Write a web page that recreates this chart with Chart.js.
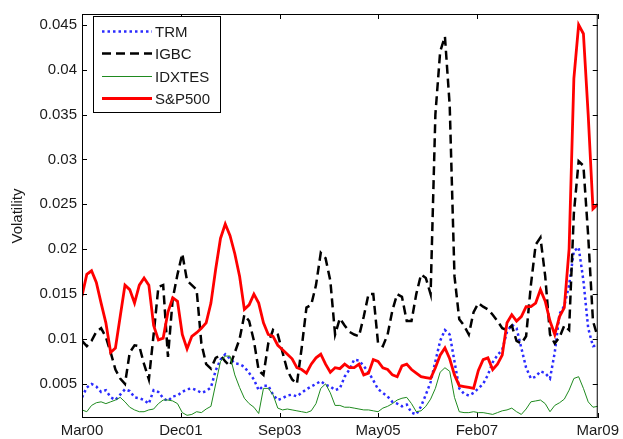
<!DOCTYPE html>
<html>
<head>
<meta charset="utf-8">
<script src="https://cdn.jsdelivr.net/npm/chart.js@4.4.0/dist/chart.umd.min.js"></script>
<style>
  html, body { margin: 0; padding: 0; background: #fff; }
  #wrap { width: 623px; height: 439px; }
</style>
</head>
<body>
<div id="wrap"><canvas id="volChart"></canvas></div>
<script>
// monthly samples, Mar00 .. Mar09 (index = months since Mar00)
const trm = [
  0.0035, 0.0046, 0.0050, 0.0047, 0.0041, 0.0043, 0.0035, 0.0032, 0.0038, 0.0044,
  0.0042, 0.0035, 0.0034, 0.0032, 0.0028, 0.0043, 0.0041, 0.0034, 0.0031, 0.0036,
  0.0037, 0.0041, 0.0044, 0.0045, 0.0043, 0.0040, 0.0042, 0.0046, 0.0065, 0.0077,
  0.0083, 0.0078, 0.0073, 0.0072, 0.0069, 0.0062, 0.0055, 0.0043, 0.0048, 0.0048,
  0.0038, 0.0032, 0.0034, 0.0037, 0.0038, 0.0036, 0.0040, 0.0044, 0.0047, 0.0050,
  0.0053, 0.0049, 0.0047, 0.0043, 0.0045, 0.0058, 0.0066, 0.0077, 0.0076, 0.0070,
  0.0063, 0.0054, 0.0044, 0.0040, 0.0036, 0.0030, 0.0028, 0.0025, 0.0027, 0.0018,
  0.0016, 0.0025, 0.0038, 0.0052, 0.0075, 0.0098, 0.0110, 0.0105, 0.0075, 0.0045,
  0.0039, 0.0037, 0.0040, 0.0045, 0.0050, 0.0060, 0.0074, 0.0082, 0.0088, 0.0108,
  0.0116, 0.0112, 0.0090, 0.0068, 0.0056, 0.0058, 0.0064, 0.0062, 0.0056, 0.0085,
  0.0128, 0.0137, 0.0160, 0.0198, 0.0202, 0.0165, 0.0112, 0.0092, 0.0093
];
const igbc = [
  0.0098, 0.0092, 0.0098, 0.0108, 0.0112, 0.0102, 0.0085, 0.0066, 0.0056, 0.0050,
  0.0085, 0.0093, 0.0092, 0.0072, 0.0055, 0.0105, 0.0158, 0.0160, 0.0080, 0.0145,
  0.0172, 0.0195, 0.0165, 0.0160, 0.0155, 0.0095, 0.0072, 0.0067, 0.0079, 0.0082,
  0.0075, 0.0070, 0.0085, 0.0100, 0.0127, 0.0120, 0.0098, 0.0065, 0.0060, 0.0095,
  0.0110, 0.0105, 0.0085, 0.0065, 0.0055, 0.0050, 0.0090, 0.0135, 0.0138, 0.0160,
  0.0196, 0.0190, 0.0165, 0.0105, 0.0123, 0.0115, 0.0108, 0.0105, 0.0103, 0.0125,
  0.0150, 0.0150, 0.0095, 0.0092, 0.0105, 0.0132, 0.0150, 0.0147, 0.0120, 0.0120,
  0.0150, 0.0172, 0.0168, 0.0150, 0.0350, 0.0420, 0.0437, 0.0360, 0.0170, 0.0122,
  0.0115, 0.0105, 0.0130, 0.0140, 0.0136, 0.0133, 0.0127, 0.0120, 0.0112, 0.0110,
  0.0115, 0.0098, 0.0095, 0.0103, 0.0160, 0.0205, 0.0213, 0.0170, 0.0105, 0.0095,
  0.0102, 0.0115, 0.0110, 0.0240, 0.0298, 0.0293, 0.0215, 0.0120, 0.0102
];
const idxtes = [
  0.0021, 0.0019, 0.0026, 0.0029, 0.0030, 0.0028, 0.0030, 0.0032, 0.0035, 0.0030,
  0.0024, 0.0021, 0.0019, 0.0019, 0.0021, 0.0022, 0.0028, 0.0032, 0.0032, 0.0031,
  0.0028, 0.0018, 0.0015, 0.0016, 0.0019, 0.0018, 0.0022, 0.0025, 0.0050, 0.0075,
  0.0081, 0.0081, 0.0060, 0.0046, 0.0034, 0.0028, 0.0024, 0.0017, 0.0045, 0.0045,
  0.0038, 0.0023, 0.0021, 0.0022, 0.0021, 0.0020, 0.0019, 0.0018, 0.0020, 0.0028,
  0.0045, 0.0050, 0.0040, 0.0026, 0.0026, 0.0024, 0.0024, 0.0023, 0.0022, 0.0021,
  0.0021, 0.0020, 0.0019, 0.0023, 0.0025, 0.0028, 0.0032, 0.0034, 0.0035, 0.0028,
  0.0019, 0.0020, 0.0025, 0.0033, 0.0045, 0.0063, 0.0068, 0.0064, 0.0035, 0.0019,
  0.0018, 0.0018, 0.0019, 0.0018, 0.0018, 0.0017, 0.0016, 0.0018, 0.0020, 0.0021,
  0.0023, 0.0019, 0.0016, 0.0022, 0.0030, 0.0031, 0.0032, 0.0028, 0.0019, 0.0026,
  0.0029, 0.0033, 0.0043, 0.0056, 0.0058, 0.0045, 0.0030, 0.0024, 0.0025
];
const sp500 = [
  0.0148, 0.0172, 0.0176, 0.0163, 0.0140, 0.0118, 0.0085, 0.0090, 0.0125, 0.0160,
  0.0155, 0.0140, 0.0160, 0.0168, 0.0160, 0.0115, 0.0099, 0.0101, 0.0130, 0.0146,
  0.0142, 0.0105, 0.0089, 0.0103, 0.0107, 0.0112, 0.0118, 0.0140, 0.0178, 0.0212,
  0.0228, 0.0215, 0.0195, 0.0170, 0.0133, 0.0138, 0.0150, 0.0140, 0.0118, 0.0105,
  0.0103, 0.0093, 0.0088, 0.0083, 0.0078, 0.0068, 0.0066, 0.0062, 0.0072, 0.0079,
  0.0083, 0.0072, 0.0063, 0.0068, 0.0067, 0.0072, 0.0068, 0.0068, 0.0072, 0.0060,
  0.0062, 0.0077, 0.0075, 0.0068, 0.0066, 0.0060, 0.0058, 0.0070, 0.0072, 0.0066,
  0.0062, 0.0058, 0.0057, 0.0056, 0.0068, 0.0082, 0.0090, 0.0078, 0.0060, 0.0048,
  0.0047, 0.0046, 0.0045, 0.0065, 0.0077, 0.0079, 0.0066, 0.0072, 0.0082, 0.0118,
  0.0127, 0.0120, 0.0125, 0.0136, 0.0136, 0.0140, 0.0155, 0.0142, 0.0120, 0.0105,
  0.0125, 0.0135, 0.0200, 0.0390, 0.0450, 0.0440, 0.0350, 0.0245, 0.0250
];

const xTickPos = [0, 20.7, 41.4, 62.0, 82.7, 108];
const xTickLabels = ['Mar00', 'Dec01', 'Sep03', 'May05', 'Feb07', 'Mar09'];
const yTicks = [0.005, 0.01, 0.015, 0.02, 0.025, 0.03, 0.035, 0.04, 0.045];

const FONT = 'Helvetica, Arial, "Liberation Sans", sans-serif';
const TEXT = '#1a1a1a';

function toPoints(arr) {
  return arr.map((v, i) => ({ x: i, y: v }));
}

// box, inward ticks and legend drawn matlab-style
const matlabFrame = {
  id: 'matlabFrame',
  afterDatasetsDraw(chart) {
    const { ctx, chartArea: a, scales: { x, y } } = chart;
    ctx.save();
    ctx.strokeStyle = '#000';
    ctx.lineWidth = 1;
    ctx.setLineDash([]);
    ctx.strokeRect(a.left + 0.5, a.top + 0.5, a.right - a.left - 1, a.bottom - a.top - 1);

    ctx.beginPath();
    y.ticks.forEach(t => {
      const py = Math.round(y.getPixelForValue(t.value)) + 0.5;
      ctx.moveTo(a.left, py); ctx.lineTo(a.left + 5, py);
      ctx.moveTo(a.right, py); ctx.lineTo(a.right - 5, py);
    });
    x.ticks.forEach(t => {
      const px = Math.round(x.getPixelForValue(t.value)) + 0.5;
      ctx.moveTo(px, a.bottom); ctx.lineTo(px, a.bottom - 5);
      ctx.moveTo(px, a.top); ctx.lineTo(px, a.top + 5);
    });
    ctx.stroke();

    // legend box
    const lx = 93, ly = 16, lw = 127, lh = 96;
    ctx.fillStyle = '#fff';
    ctx.fillRect(lx, ly, lw, lh);
    ctx.strokeRect(lx + 0.5, ly + 0.5, lw, lh);
    ctx.font = '15px ' + FONT;
    ctx.textBaseline = 'middle';
    const rowY = [31, 53, 76, 98];
    chart.data.datasets.forEach((ds, i) => {
      const ry = rowY[i] + 0.5;
      ctx.save();
      ctx.strokeStyle = ds.borderColor;
      ctx.lineWidth = ds.borderWidth;
      ctx.setLineDash(ds.borderDash || []);
      ctx.beginPath();
      ctx.moveTo(102, ry);
      ctx.lineTo(152, ry);
      ctx.stroke();
      ctx.restore();
      ctx.fillStyle = TEXT;
      ctx.fillText(ds.label, 155, ry + 1);
    });
    ctx.restore();
  }
};

new Chart(document.getElementById('volChart'), {
  type: 'line',
  data: {
    datasets: [
      { label: 'TRM', data: toPoints(trm), borderColor: '#2b2bff', borderWidth: 2.5, borderDash: [2.5, 3], order: 4 },
      { label: 'IGBC', data: toPoints(igbc), borderColor: '#000000', borderWidth: 2.5, borderDash: [9, 5], order: 3 },
      { label: 'IDXTES', data: toPoints(idxtes), borderColor: '#1f8a1f', borderWidth: 1, order: 2 },
      { label: 'S&P500', data: toPoints(sp500), borderColor: '#ff0000', borderWidth: 2.8, order: 1 }
    ]
  },
  options: {
    responsive: true,
    maintainAspectRatio: false,
    animation: false,
    layout: { padding: { top: 8, right: 19, left: 0, bottom: 0 } },
    elements: {
      line: { tension: 0, fill: false },
      point: { radius: 0, hoverRadius: 0 }
    },
    plugins: {
      legend: { display: false },
      tooltip: { enabled: false }
    },
    scales: {
      x: {
        type: 'linear',
        min: 0,
        max: 108,
        grid: { display: false, drawTicks: false },
        border: { display: false },
        afterBuildTicks: s => { s.ticks = xTickPos.map(v => ({ value: v })); },
        afterFit: s => { s.height = 21; },
        ticks: {
          autoSkip: false,
          maxRotation: 0,
          padding: 4,
          color: TEXT,
          font: { family: FONT, size: 15 },
          callback: (v, i) => xTickLabels[i]
        }
      },
      y: {
        min: 0.0012,
        max: 0.0462,
        grid: { display: false, drawTicks: false },
        border: { display: false },
        afterBuildTicks: s => { s.ticks = yTicks.map(v => ({ value: v })); },
        afterFit: s => { s.width = 82; },
        title: {
          display: true,
          text: 'Volatility',
          color: TEXT,
          padding: { top: 9, bottom: 0 },
          font: { family: FONT, size: 15 }
        },
        ticks: {
          padding: 5,
          color: TEXT,
          font: { family: FONT, size: 15 },
          callback: v => String(+v.toFixed(3))
        }
      }
    }
  },
  plugins: [matlabFrame]
});
</script>
</body>
</html>
